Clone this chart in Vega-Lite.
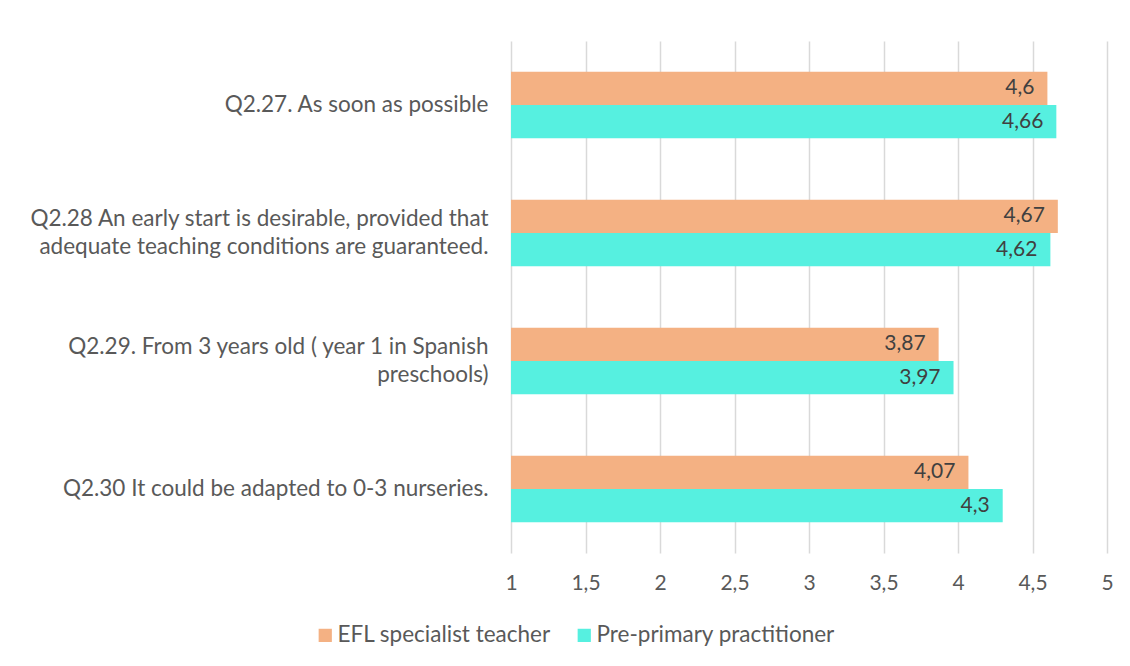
{
  "$schema": "https://vega.github.io/schema/vega-lite/v6.json",
  "autosize": {"type": "none"},
  "padding": {"left": 511, "top": 41, "right": 23, "bottom": 113},
  "width": 596,
  "height": 512,
  "background": "white",
  "config": {
    "locale": {"number": {"decimal": ",", "thousands": ".", "grouping": [3], "currency": ["", " €"]}},
    "view": {"stroke": null},
    "font": "Lato"
  },
  "data": {
    "values": [
      {"question": "Q2.27. As soon as possible", "group": "EFL specialist teacher", "score": 4.6},
      {"question": "Q2.27. As soon as possible", "group": "Pre-primary practitioner", "score": 4.66},
      {"question": "Q2.28 An early start is desirable, provided that adequate teaching conditions are guaranteed.", "group": "EFL specialist teacher", "score": 4.67},
      {"question": "Q2.28 An early start is desirable, provided that adequate teaching conditions are guaranteed.", "group": "Pre-primary practitioner", "score": 4.62},
      {"question": "Q2.29. From 3 years old ( year 1 in Spanish preschools)", "group": "EFL specialist teacher", "score": 3.87},
      {"question": "Q2.29. From 3 years old ( year 1 in Spanish preschools)", "group": "Pre-primary practitioner", "score": 3.97},
      {"question": "Q2.30 It could be adapted to 0-3 nurseries.", "group": "EFL specialist teacher", "score": 4.07},
      {"question": "Q2.30 It could be adapted to 0-3 nurseries.", "group": "Pre-primary practitioner", "score": 4.3}
    ]
  },
  "encoding": {
    "y": {
      "field": "question",
      "type": "nominal",
      "sort": null,
      "scale": {"paddingInner": 0.48, "paddingOuter": 0.24},
      "axis": {
        "title": null,
        "domain": false,
        "ticks": false,
        "labelPadding": 23,
        "labelFontSize": 22.5,
        "labelColor": "#595959",
        "labelLimit": 600,
        "labelLineHeight": 28,
        "labelOffset": {"condition": {"test": "indexof(datum.value, 'Q2.28') == 0 || indexof(datum.value, 'Q2.29') == 0", "value": -14}, "value": 0},
        "labelExpr": "datum.value == 'Q2.28 An early start is desirable, provided that adequate teaching conditions are guaranteed.' ? ['Q2.28 An early start is desirable, provided that', 'adequate teaching conditions are guaranteed.'] : datum.value == 'Q2.29. From 3 years old ( year 1 in Spanish preschools)' ? ['Q2.29. From 3 years old ( year 1 in Spanish', 'preschools)'] : datum.label"
      }
    },
    "yOffset": {"field": "group", "type": "nominal", "sort": ["EFL specialist teacher", "Pre-primary practitioner"]},
    "x": {
      "field": "score",
      "type": "quantitative",
      "scale": {"domain": [1, 5], "zero": false, "nice": false},
      "axis": {
        "title": null,
        "values": [1, 1.5, 2, 2.5, 3, 3.5, 4, 4.5, 5],
        "format": ".1~f",
        "domain": false,
        "ticks": false,
        "grid": true,
        "gridColor": "#d9d9d9",
        "gridWidth": 1.5,
        "labelFlush": false,
        "labelPadding": 19,
        "labelFontSize": 21,
        "labelColor": "#595959"
      }
    }
  },
  "layer": [
    {
      "mark": {"type": "bar"},
      "encoding": {
        "x2": {"datum": 1},
        "color": {
          "field": "group",
          "type": "nominal",
          "scale": {"domain": ["EFL specialist teacher", "Pre-primary practitioner"], "range": ["#F4B183", "#56F0E0"]},
          "legend": {
            "title": null,
            "orient": "none",
            "direction": "horizontal",
            "legendX": -197,
            "legendY": 583,
            "padding": 0,
            "symbolType": "square",
            "symbolSize": 175,
            "symbolStrokeWidth": 0,
            "symbolOpacity": 1,
            "labelFontSize": 22.5,
            "labelColor": "#595959",
            "labelOffset": 1,
            "columnPadding": 22,
            "labelLimit": 400
          }
        }
      }
    },
    {
      "mark": {"type": "text", "align": "right", "baseline": "middle", "dx": -13, "fontSize": 21, "color": "#404040"},
      "encoding": {
        "text": {"field": "score", "type": "quantitative", "format": ".2~f"}
      }
    }
  ]
}
